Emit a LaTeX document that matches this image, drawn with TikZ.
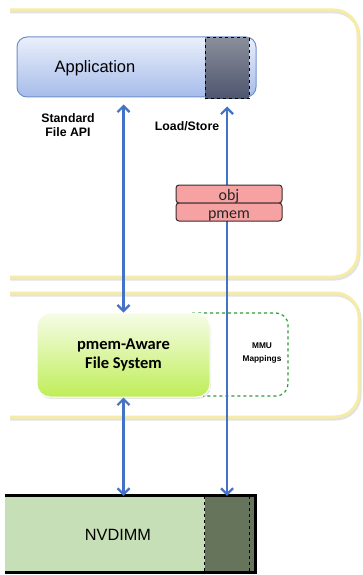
\documentclass[tikz,border=0pt]{standalone}
\usepackage{fontspec}
\setmainfont{Liberation Sans}
\newfontfamily\calfont{Carlito}
\usetikzlibrary{arrows.meta,shadows}
\definecolor{panelY}{HTML}{F6ECA6}
\definecolor{panelS}{HTML}{E2E2E2}
\definecolor{appTop}{HTML}{EAEFFB}
\definecolor{appBot}{HTML}{A6BCEA}
\definecolor{appLine}{HTML}{6F8FCB}
\definecolor{darkTop}{HTML}{8A8E9A}
\definecolor{darkBot}{HTML}{4D556E}
\definecolor{pinkFill}{HTML}{F7A2A2}
\definecolor{pinkLine}{HTML}{3A2C2C}
\definecolor{fsTop}{HTML}{F6FCE8}
\definecolor{fsBot}{HTML}{BFEE58}
\definecolor{mmuGreen}{HTML}{2F9A35}
\definecolor{arrBlue}{HTML}{4472C4}
\definecolor{nvFill}{HTML}{C6DFB6}
\definecolor{nvDark}{HTML}{66745C}
\tikzset{
  panel/.style={draw=panelY, line width=3pt, rounded corners=24pt},
  panelshadow/.style={draw=panelS, line width=3pt, rounded corners=24pt},
  appbox/.style={draw=appLine, line width=1pt, rounded corners=10pt, top color=appTop, bottom color=appBot, inner sep=0pt},
  darkbox/.style={draw=black, dashed, line width=1pt, top color=darkTop, bottom color=darkBot, inner sep=0pt},
  pbox/.style={draw=pinkLine, fill=pinkFill, line width=1pt, rounded corners=3pt, minimum width=106pt, minimum height=18pt, inner sep=0pt},
  ptext/.style={font=\calfont\fontsize{16}{16}\selectfont, inner sep=0pt, text=black!85},
  fsbox/.style={rounded corners=13pt, top color=fsTop, bottom color=fsBot, draw=white, line width=1pt, drop shadow={opacity=0.18, shadow xshift=1pt, shadow yshift=-2pt}, inner sep=0pt, align=center, font=\calfont\bfseries\fontsize{16.5}{19.5}\selectfont},
  mmu/.style={draw=mmuGreen, dashed, line width=1.2pt, rounded corners=12pt},
  arr/.style={draw=arrBlue, line width=2.2pt, {Straight Barb[length=6pt,width=12pt]}-{Straight Barb[length=6pt,width=12pt]}},
  lbl/.style={font=\bfseries\fontsize{12.3}{14}\selectfont, align=center, inner sep=0pt},
}
\begin{document}
\begin{tikzpicture}[x=1pt,y=-1pt]
\useasboundingbox[fill=white] (0,0) rectangle (362,575);
% panels
\begin{scope}
\clip (10,0) rectangle (362,575);
\draw[panelshadow] (-20,12) rectangle (359,279);
\draw[panel] (-20,10) rectangle (358,277);
\draw[panelshadow] (-20,295) rectangle (360,419);
\draw[panel] (-20,293) rectangle (359,417);
\end{scope}
% application
\node[appbox, minimum width=239pt, minimum height=60pt] (app) at (136.5,67) {};
\node[font=\fontsize{16.5}{18}\selectfont, inner sep=0pt] (apptxt) at (95,68) {Application};
\node[darkbox, minimum width=44pt, minimum height=61pt] (appdark) at (227,68.5) {};
% labels
\node[lbl] (stdapi) at (68,125) {Standard\\File API};
\node[lbl] (ldst) at (187,126) {Load/Store};
% MMU mappings
\draw[mmu] (192,313) -- (288,313) -- (288,396) -- (203,396);
\node[font=\bfseries\fontsize{8.3}{12.5}\selectfont, align=center, inner sep=0pt] (mmutxt) at (262,353) {MMU\\Mappings};
% file system
\node[fsbox, minimum width=173pt, minimum height=84pt] (fs) at (123.5,355) {pmem-Aware\\File System};
% NVDIMM
\node[fill=nvFill, minimum width=250pt, minimum height=76pt, inner sep=0pt] (nv) at (130,534) {};
\node[fill=nvDark, minimum width=50pt, minimum height=76pt, inner sep=0pt] (nvdark) at (230,534) {};
\draw[dashed, line width=0.8pt] (nvdark.north west) -- (nvdark.south west);
\draw[dashed, line width=0.8pt] ([xshift=-6pt]nvdark.north east) -- ([xshift=-6pt]nvdark.south east);
\draw[line width=3pt] (nv.north west) -- (nv.north east) -- (nv.south east) -- (nv.south west);
\node[font=\fontsize{16.3}{18}\selectfont, inner sep=0pt] (nvtxt) at (118,535) {NVDIMM};
% connectors
\draw[arr, shorten <=7pt] (fs.north |- app.south) -- (fs.north);
\draw[arr, shorten <=7pt] (appdark.south) -- (appdark.south |- nv.north);
\draw[arr] (fs.south) -- (fs.south |- nv.north);
% obj / pmem
\node[pbox] (obj) at (229,194) {};
\node[ptext, anchor=base] (objtxt) at (229,200.5) {obj};
\node[pbox] (pm) at (229,212) {};
\node[ptext, anchor=base] (pmtxt) at (229,218) {pmem};
\end{tikzpicture}
\end{document}
